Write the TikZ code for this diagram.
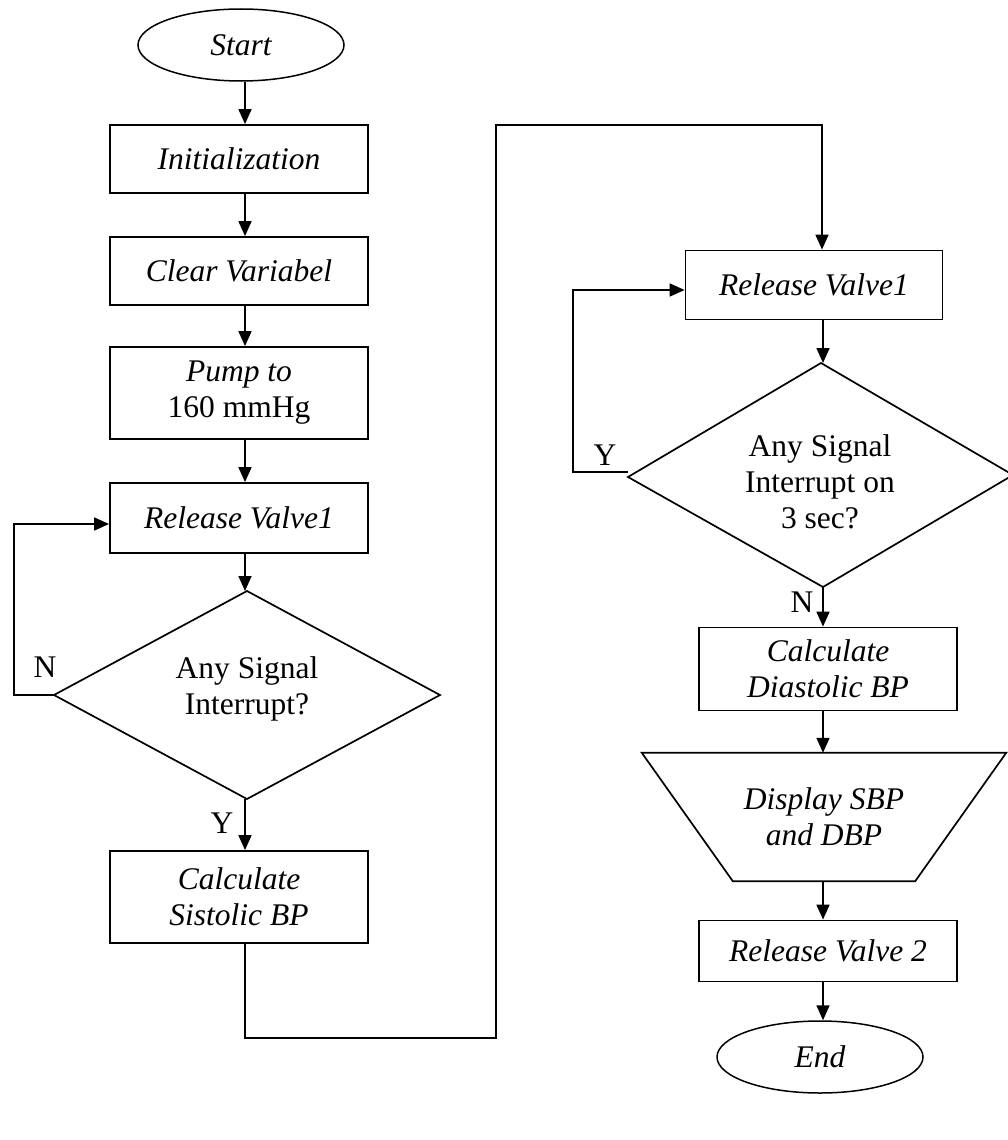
\documentclass[tikz,border=0pt]{standalone}
\usepackage{fontspec}
\setmainfont{Liberation Serif}
\usetikzlibrary{shapes.geometric,arrows.meta,calc}
\newcommand{\flowfont}{\fontsize{31.5}{36}\selectfont}
\begin{document}
\begin{tikzpicture}[x=1pt,y=-1pt,
  every node/.style={font=\flowfont, inner sep=0pt},
  ital/.style={font=\flowfont\itshape},
  term/.style={draw, ellipse, line width=1.5pt, minimum width=206pt, minimum height=72pt, ital},
  proc/.style={draw, rectangle, line width=1.8pt, minimum width=258pt, align=center, ital},
  decision/.style={rectangle, align=center},
  arr/.style={line width=1.7pt, -{Triangle[length=15pt,width=13pt]}},
  link/.style={line width=1.7pt}]
\useasboundingbox (0,0) rectangle (1007,1140);

% column guides for the vertical connectors
\coordinate (cl) at (245,0);
\coordinate (cr) at (823,0);
\coordinate (lx) at (14,0);
\coordinate (rx) at (573,0);

% left column
\node[term] (start) at (241,45) {Start};
\node[proc, minimum height=68pt] (init) at (239,159) {Initialization};
\node[proc, minimum height=68pt] (clr) at (239,271) {Clear Variabel};
\node[proc, minimum height=92pt] (pump) at (239,393) {Pump to\\\upshape 160 mmHg};
\node[proc, minimum height=70pt] (rva) at (239,518) {Release Valve1};
\node[decision] (qa) at (247,689) {Any Signal\\Interrupt?};
\coordinate (qat) at (247,591);
\coordinate (qab) at (247,799);
\coordinate (qal) at (54,695);
\coordinate (qar) at (440,695);
\draw[link] (qat) -- (qar) -- (qab) -- (qal) -- cycle;
\node[proc, minimum height=92pt] (csys) at (239,897) {Calculate\\Sistolic BP};

% right column
\node[proc, minimum width=257pt, minimum height=69pt] (rvb) at (814,285) {Release Valve1};
\node[decision] (qb) at (820,482) {Any Signal\\Interrupt on\\3 sec?};
\coordinate (qbt) at (821,363);
\coordinate (qbb) at (823,587);
\coordinate (qbl) at (628,477);
\coordinate (qbr) at (1013,475);
\draw[link] (qbt) -- (qbr) -- (qbb) -- (qbl) -- cycle;
\node[proc, minimum height=83pt] (cdia) at (828,669) {Calculate\\Diastolic BP};
\node[rectangle, minimum width=364pt, minimum height=128pt, align=center, ital] (disp) at (824,817) {Display SBP\\and DBP};
\draw[link] (disp.north west) -- (disp.north east) -- ([xshift=-91pt]disp.south east) -- ([xshift=91pt]disp.south west) -- cycle;
\node[proc, minimum height=61pt] (rvc) at (828,951) {Release Valve 2};
\node[term] (endn) at (820,1057) {End};

% straight flow
\draw[arr] (start.south -| cl) -- (init.north -| cl);
\draw[arr] (init.south -| cl) -- (clr.north -| cl);
\draw[arr] (clr.south -| cl) -- (pump.north -| cl);
\draw[arr] (pump.south -| cl) -- (rva.north -| cl);
\draw[arr] (rva.south -| cl) -- (qat -| cl);
\draw[arr] (qab -| cl) -- (csys.north -| cl);

\draw[arr] (rvb.south -| cr) -- (qbt -| cr);
\draw[arr] (qbb -| cr) -- (cdia.north -| cr);
\draw[arr] (cdia.south -| cr) -- (disp.north -| cr);
\draw[arr] (disp.south -| cr) -- (rvc.north -| cr);
\draw[arr] (rvc.south -| cr) -- (endn.north -| cr);

% loops back to the valve release steps
\draw[arr] (qal) -- (qal -| lx) |- ([yshift=-6pt]rva.west);
\draw[arr] ([yshift=5pt]qbl) -- ([yshift=5pt]qbl -| rx) |- ([yshift=-5pt]rvb.west);

% transfer from the left column to the right column
\coordinate (b1) at (245,1038);
\coordinate (b2) at (496,1038);
\coordinate (b3) at (496,125);
\coordinate (b4) at (822,125);
\draw[arr] (csys.south -| b1) -- (b1) -- (b2) -- (b3) -- (b4) -- (rvb.north -| b4);

% branch labels
\node (ln1) at (45,667) {N};
\node (ly1) at (222,823) {Y};
\node (ly2) at (605,455) {Y};
\node (ln2) at (802,602) {N};
\end{tikzpicture}
\end{document}
